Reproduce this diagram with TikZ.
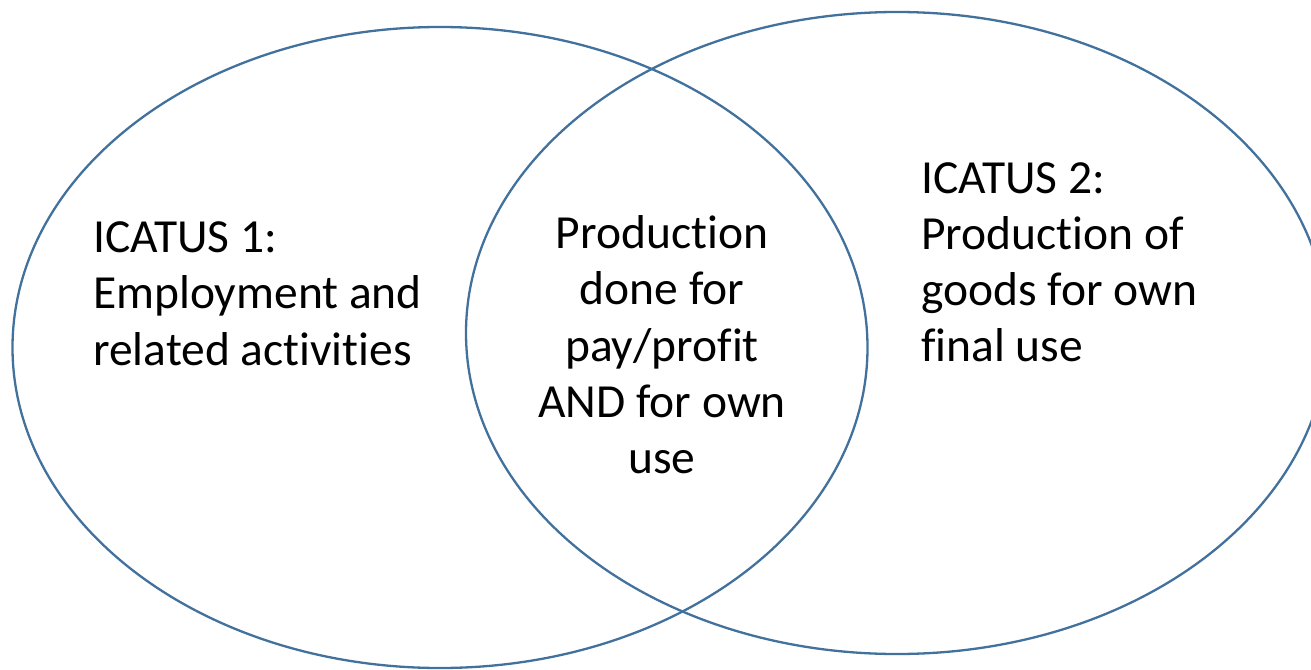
\documentclass[tikz,border=0pt]{standalone}
\usepackage{fontspec}
\setmainfont{Carlito}[Ligatures=NoCommon]
\definecolor{vennblue}{HTML}{41719C}
\begin{document}
\begin{tikzpicture}[x=1pt,y=-1pt,
  venn/.style={draw=vennblue,line width=2.3pt},
  label/.style={inner sep=0pt,font=\fontsize{47.5}{56.2}\selectfont}]
\useasboundingbox (0,0) rectangle (1311,669);
\draw[venn] (440,347.5) ellipse [x radius=427.5, y radius=320.5];
\draw[venn] (897,333) ellipse [x radius=431, y radius=321];
\node[label,align=left,anchor=base west] (left) at (93,365.1) {ICATUS 1:\\Employment and\\related activities};
\node[label,align=center,anchor=base] (mid) at (662,473.5) {Production\\done for\\pay/profit\\AND for own\\use};
\node[label,align=left,anchor=base west] (right) at (921,361.6) {ICATUS 2:\\Production of\\goods for own\\final use};
\end{tikzpicture}
\end{document}
